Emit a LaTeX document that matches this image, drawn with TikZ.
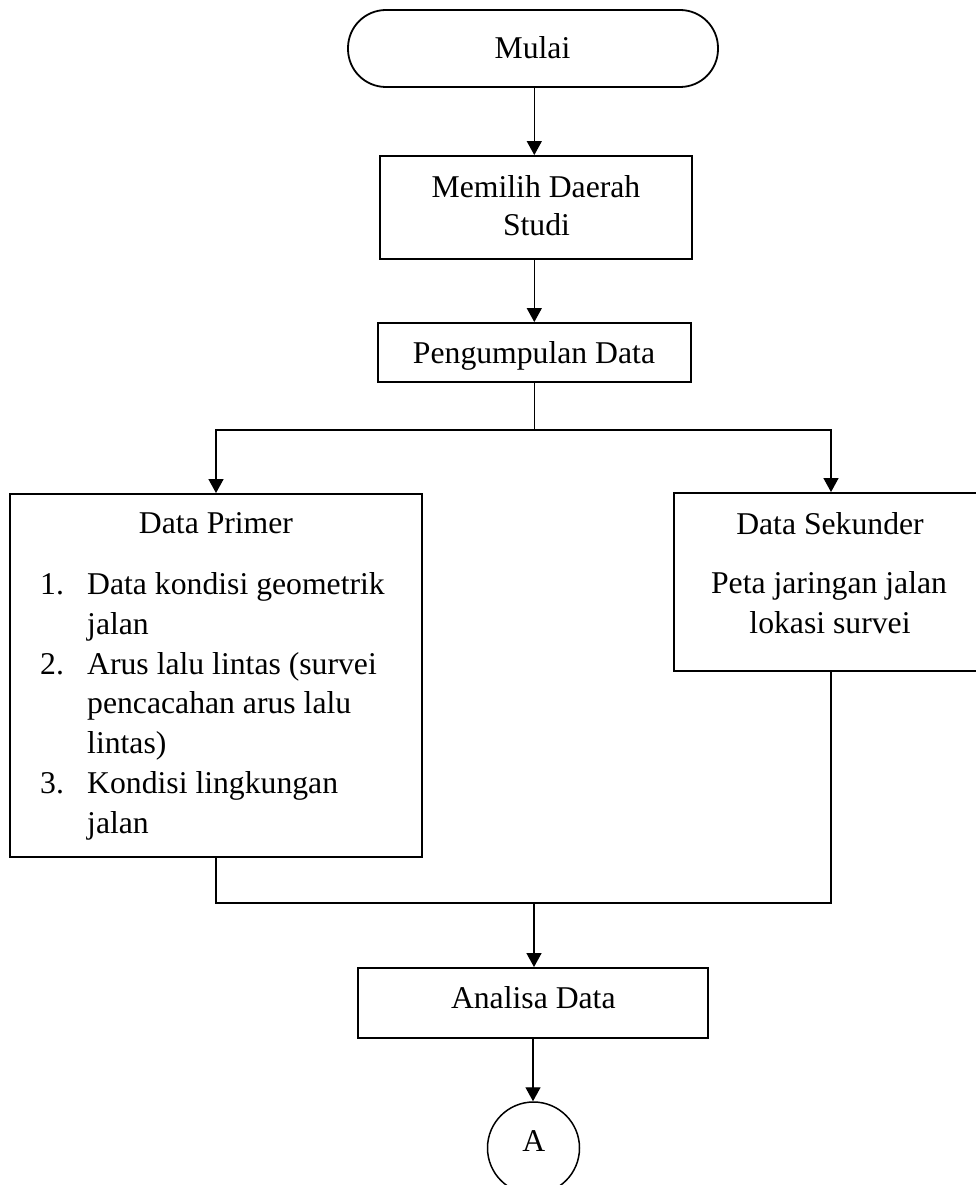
\documentclass[tikz,border=0pt]{standalone}
\usepackage{fontspec}
\setmainfont{Liberation Serif}
\usetikzlibrary{arrows.meta}
\begin{document}
\begin{tikzpicture}[x=1pt,y=-1pt,
  box/.style={draw,line width=1.9pt,rectangle,inner sep=0pt},
  term/.style={draw,line width=1.8pt,rectangle,rounded corners=38pt,inner sep=0pt},
  conn/.style={line width=1.4pt},
  arr/.style={line width=1.4pt,-{Triangle[length=14pt,width=15pt]}},
  txt/.style={inner sep=0pt,font=\fontsize{31.7}{40}\selectfont}]
\useasboundingbox (0,0) rectangle (975,1185);
\fill[white] (0,0) rectangle (975,1185);
% shapes
\node[term,minimum width=370pt,minimum height=77pt] (mulai) at (533,48.5) {};
\node[box,minimum width=312pt,minimum height=103pt] (memilih) at (536,207.5) {};
\node[box,minimum width=313pt,minimum height=59pt] (kumpul) at (534.7,352.5) {};
\node[box,minimum width=412pt,minimum height=363pt] (dp) at (216,675.5) {};
\node[box,minimum width=314pt,minimum height=178pt] (ds) at (831,582) {};
\node[box,minimum width=350pt,minimum height=70pt] (analisa) at (533,1003) {};
\node[draw,circle,line width=1.5pt,minimum size=92pt,inner sep=0pt] (A) at (533.5,1148) {};
% texts
\node[txt,anchor=base] (tmulai) at (532.5,59) {Mulai};
\node[txt,anchor=base] (tmem1) at (536,197) {Memilih Daerah};
\node[txt,anchor=base] (tmem2) at (536.5,235) {Studi};
\node[txt,anchor=base] (tkump) at (534,363) {Pengumpulan Data};
\node[txt,anchor=base] (tdp) at (216,533) {Data Primer};
\node[txt,anchor=base west] (n1) at (40,594) {1.};
\node[txt,anchor=base west] (l1) at (87,594) {Data kondisi geometrik};
\node[txt,anchor=base west] (l2) at (87,634) {jalan};
\node[txt,anchor=base west] (n2) at (40,674) {2.};
\node[txt,anchor=base west] (l3) at (87,674) {Arus lalu lintas (survei};
\node[txt,anchor=base west] (l4) at (87,713) {pencacahan arus lalu};
\node[txt,anchor=base west] (l5) at (87,753) {lintas)};
\node[txt,anchor=base west] (n3) at (40,793) {3.};
\node[txt,anchor=base west] (l6) at (87,793) {Kondisi lingkungan};
\node[txt,anchor=base west] (l7) at (87,833) {jalan};
\node[txt,anchor=base] (tds) at (830,534) {Data Sekunder};
\node[txt,anchor=base] (tds1) at (829,593) {Peta jaringan jalan};
\node[txt,anchor=base] (tds2) at (830,633) {lokasi survei};
\node[txt,anchor=base] (tana) at (533.3,1008) {Analisa Data};
\node[txt,anchor=base] (tA) at (533.8,1151) {A};
% connectors
\coordinate (split) at (534.7,430);
\coordinate (merge) at (534,903);
\draw[arr] (mulai.south -| 534.3,0) -- (memilih.north -| 534.3,0);
\draw[arr] (memilih.south -| 534.3,0) -- (kumpul.north -| 534.3,0);
\draw[conn] (kumpul.south) -- (split);
\draw[arr] (split) -| (dp.north);
\draw[arr] (split) -| (ds.north);
\draw[conn] (dp.south) |- (merge);
\draw[conn] (ds.south) |- (merge);
\draw[arr] (merge) -- (merge |- analisa.north);
\draw[arr] (analisa.south) -- (analisa.south |- A.north);
\end{tikzpicture}
\end{document}
